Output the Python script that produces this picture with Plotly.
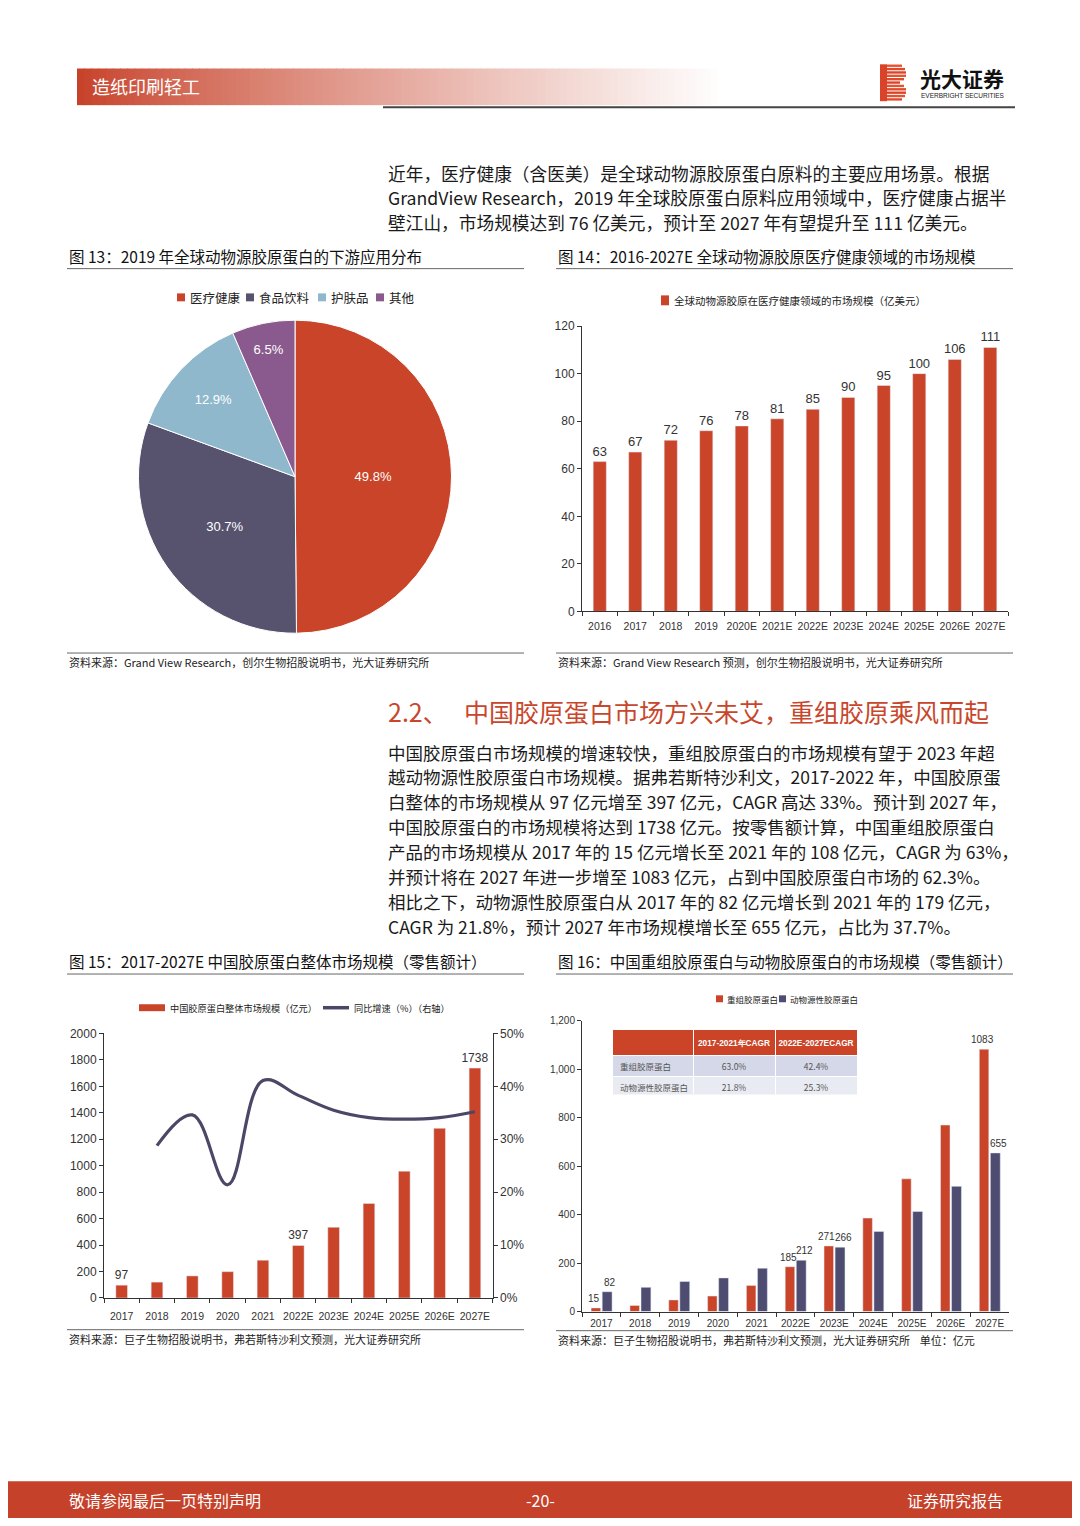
import plotly.graph_objects as go

# The page body keeps an 8px margin, so the figure is 16px smaller and all
# reference pixel positions are shifted by that margin.
PAD = 8
W, H = 1080 - 2 * PAD, 1526 - 2 * PAD


def X(px):
    return (px - PAD) / W


def Y(py):
    return 1 - (py - PAD) / H


CJK = "Noto Sans CJK SC"
NARROW = "Liberation Sans Narrow, Arial Narrow, Liberation Sans, sans-serif"
RED = "#C94428"
NAVY = "#4F4C72"

# ---------------- data ----------------
pie_labels = ["医疗健康", "食品饮料", "护肤品", "其他"]
pie_values = [49.8, 30.7, 12.9, 6.5]
pie_colors = [RED, "#57536F", "#8FB8CC", "#8A5A8E"]

years14 = ["2016", "2017", "2018", "2019", "2020E", "2021E", "2022E",
           "2023E", "2024E", "2025E", "2026E", "2027E"]
medical14 = [63, 67, 72, 76, 78, 81, 85, 90, 95, 100, 106, 111]

years15 = ["2017", "2018", "2019", "2020", "2021", "2022E", "2023E",
           "2024E", "2025E", "2026E", "2027E"]
total15 = [97, 120, 167, 199, 286, 397, 535, 715, 959, 1283, 1738]
growth_years15 = ["2018", "2019", "2020", "2021", "2022E", "2023E",
                  "2024E", "2025E", "2026E", "2027E"]
growth15 = [0.288, 0.346, 0.214, 0.411, 0.383, 0.355, 0.341, 0.338, 0.341, 0.352]
labeled15 = ["2017", "2022E", "2027E"]

years16 = ["2017", "2018", "2019", "2020", "2021", "2022E", "2023E",
           "2024E", "2025E", "2026E", "2027E"]
recomb16 = [15, 25, 48, 64, 108, 185, 271, 386, 548, 770, 1083]
animal16 = [82, 100, 124, 139, 179, 212, 266, 331, 413, 517, 655]
labeled16 = ["2017", "2022E", "2023E", "2027E"]

table_header = ["", "2017-2021年CAGR", "2022E-2027ECAGR"]
table_rows = ["重组胶原蛋白", "动物源性胶原蛋白"]
cagr_2017_2021 = ["63.0%", "21.8%"]
cagr_2022_2027 = ["42.4%", "25.3%"]

# ---------------- figure ----------------
fig = go.Figure()
ann = []
shapes = []


def txt(x, y, s, size, color="#222222", family=CJK, anchor="left"):
    ann.append(dict(x=X(x), y=Y(y), xref="paper", yref="paper", text=s,
                    showarrow=False, xanchor=anchor, yanchor="middle",
                    font=dict(size=size, color=color, family=family)))


def rect(x0, y0, x1, y1, color):
    shapes.append(dict(type="rect", xref="paper", yref="paper",
                       x0=X(x0), x1=X(x1), y0=Y(y1), y1=Y(y0),
                       fillcolor=color, line=dict(width=0), layer="above"))


def hline(x0, x1, y, color="#555555", width=1):
    shapes.append(dict(type="line", xref="paper", yref="paper",
                       x0=X(x0), x1=X(x1), y0=Y(y), y1=Y(y),
                       line=dict(color=color, width=width), layer="above"))


# ---- header gradient bar ----
n = 90
gx0, gx1 = 77, 725
for i in range(n):
    t = i / (n - 1)
    f = t ** 0.85
    r = int(199 + (255 - 199) * f)
    g = int(66 + (255 - 66) * f)
    b = int(42 + (255 - 42) * f)
    xa = gx0 + (gx1 - gx0) * i / n
    xb = gx0 + (gx1 - gx0) * (i + 1) / n + 0.8
    rect(xa, 62, xb, 99, f"rgb({r},{g},{b})")
txt(90, 80, "造纸印刷轻工", 18, "#FFFFFF")
hline(383, 1015, 101, "#444444", 2)

# logo
stripe_w = [22, 25, 26, 26, 24, 20, 24, 26, 26, 25, 22]
for i, w_ in enumerate(stripe_w):
    y0 = 58 + i * 3.4
    c = ["#E8522E", "#E04A2C", "#D9432A"][i % 3]
    rect(880, y0, 880 + w_, y0 + 2.4, c)
rect(880, 58, 887, 95, "#D9432A")
txt(918, 72, "<b>光大证券</b>", 21, "#111111")
txt(919, 89, "EVERBRIGHT SECURITIES", 6.5, "#222222", "Liberation Sans")

# ---- paragraph 1 ----
para1 = ["近年，医疗健康（含医美）是全球动物源胶原蛋白原料的主要应用场景。根据",
         "GrandView Research，2019 年全球胶原蛋白原料应用领域中，医疗健康占据半",
         "壁江山，市场规模达到 76 亿美元，预计至 2027 年有望提升至 111 亿美元。"]
for i, line in enumerate(para1):
    txt(386, 167 + i * 25, line, 17.7, "#1A1A1A")

# ---- figure titles row 1 ----
txt(67, 251, "图 13：2019 年全球动物源胶原蛋白的下游应用分布", 15.5, "#111111")
txt(556, 251, "图 14：2016-2027E 全球动物源胶原医疗健康领域的市场规模", 15.5, "#111111")
hline(67, 524, 264, "#666666", 1)
hline(556, 1013, 264, "#666666", 1)
hline(67, 524, 652, "#666666", 1)
hline(556, 1013, 652, "#666666", 1)
txt(67, 661, "资料来源：Grand View Research，创尔生物招股说明书，光大证券研究所", 11, "#222222")
txt(556, 661, "资料来源：Grand View Research 预测，创尔生物招股说明书，光大证券研究所", 11, "#222222")

# ---- pie ----
fig.add_trace(go.Pie(
    labels=pie_labels, values=pie_values, sort=False, direction="clockwise",
    rotation=0, marker=dict(colors=pie_colors, line=dict(color="#FFFFFF", width=1)),
    texttemplate="%{value:.1f}%", textposition="inside",
    insidetextorientation="horizontal",
    textfont=dict(size=13, color="#FFFFFF", family="Liberation Sans"),
    domain=dict(x=[X(137), X(453)], y=[Y(632), Y(316)]),
    showlegend=False, hoverinfo="label+percent"))

leg_x = [177, 246, 318, 376]
for lx, lab, col in zip(leg_x, pie_labels, pie_colors):
    rect(lx, 289, lx + 8, 297, col)
    txt(lx + 11, 293, lab, 12.5, "#222222")

# ---- chart 14 ----
fig.add_trace(go.Bar(
    x=years14, y=medical14, marker_color=RED, width=0.37,
    text=[str(v) for v in medical14], textposition="outside",
    constraintext="none", cliponaxis=False,
    textfont=dict(size=13, color="#333333", family=NARROW),
    xaxis="x", yaxis="y", showlegend=False))
rect(661, 291, 669, 301, RED)
txt(672, 296, "全球动物源胶原在医疗健康领域的市场规模（亿美元）", 10.5, "#222222")

# ---- section heading ----
txt(386, 711, "2.2、", 25, "#C8472C")
txt(462, 711, "中国胶原蛋白市场方兴未艾，重组胶原乘风而起", 25, "#C8472C")

para2 = ["中国胶原蛋白市场规模的增速较快，重组胶原蛋白的市场规模有望于 2023 年超",
         "越动物源性胶原蛋白市场规模。据弗若斯特沙利文，2017-2022 年，中国胶原蛋",
         "白整体的市场规模从 97 亿元增至 397 亿元，CAGR 高达 33%。预计到 2027 年，",
         "中国胶原蛋白的市场规模将达到 1738 亿元。按零售额计算，中国重组胶原蛋白",
         "产品的市场规模从 2017 年的 15 亿元增长至 2021 年的 108 亿元，CAGR 为 63%，",
         "并预计将在 2027 年进一步增至 1083 亿元，占到中国胶原蛋白市场的 62.3%。",
         "相比之下，动物源性胶原蛋白从 2017 年的 82 亿元增长到 2021 年的 179 亿元，",
         "CAGR 为 21.8%，预计 2027 年市场规模增长至 655 亿元，占比为 37.7%。"]
for i, line in enumerate(para2):
    txt(386, 752 + i * 25.1, line, 17.5, "#1A1A1A")

# ---- figure titles row 2 ----
txt(67, 963, "图 15：2017-2027E 中国胶原蛋白整体市场规模（零售额计）", 15.5, "#111111")
txt(556, 963, "图 16：中国重组胶原蛋白与动物胶原蛋白的市场规模（零售额计）", 15.5, "#111111")
hline(67, 524, 976, "#666666", 1)
hline(556, 1013, 976, "#666666", 1)
hline(67, 524, 1335, "#666666", 1)
hline(556, 1013, 1336, "#666666", 1)
txt(67, 1344, "资料来源：巨子生物招股说明书，弗若斯特沙利文预测，光大证券研究所", 11, "#222222")
txt(556, 1345, "资料来源：巨子生物招股说明书，弗若斯特沙利文预测，光大证券研究所    单位：亿元", 11, "#222222")

# ---- chart 15 ----
fig.add_trace(go.Bar(
    x=years15, y=total15, marker_color=RED, width=0.33,
    text=[str(v) if yr in labeled15 else "" for yr, v in zip(years15, total15)],
    textposition="outside", constraintext="none", cliponaxis=False,
    textfont=dict(size=12, color="#333333", family=NARROW),
    xaxis="x2", yaxis="y2", showlegend=False))
fig.add_trace(go.Scatter(
    x=growth_years15, y=growth15, mode="lines",
    line=dict(color="#4A4866", width=3.2, shape="spline", smoothing=1.1),
    xaxis="x2", yaxis="y3", showlegend=False))
rect(139, 1006.5, 165, 1013.5, RED)
txt(168, 1010, "中国胶原蛋白整体市场规模（亿元）", 9.2, "#222222")
hline(323, 349, 1010, "#4A4866", 3.5)
txt(352, 1010, "同比增速（%）（右轴）", 9.2, "#222222")

# ---- chart 16 ----
fig.add_trace(go.Bar(
    x=years16, y=recomb16, marker_color=RED, width=0.245, offset=-0.265,
    xaxis="x3", yaxis="y4", showlegend=False))
fig.add_trace(go.Bar(
    x=years16, y=animal16, marker_color=NAVY, width=0.255, offset=0.02,
    xaxis="x3", yaxis="y4", showlegend=False))
lab16_font = dict(size=10, color="#333333", family=NARROW)
for idx, (yr, vr, va) in enumerate(zip(years16, recomb16, animal16)):
    if yr in labeled16:
        ann.append(dict(x=idx, y=vr, xref="x3", yref="y4", text=str(vr),
                        showarrow=False, xanchor="center", yanchor="bottom",
                        xshift=-7.5, yshift=2, font=lab16_font))
        ann.append(dict(x=idx, y=va, xref="x3", yref="y4", text=str(va),
                        showarrow=False, xanchor="center", yanchor="bottom",
                        xshift=9, yshift=2, font=lab16_font))
rect(716, 997.5, 723, 1004.5, RED)
txt(725, 1001, "重组胶原蛋白", 8.5, "#222222")
rect(779, 997.5, 786, 1004.5, NAVY)
txt(788, 1001, "动物源性胶原蛋白", 8.5, "#222222")

fig.add_trace(go.Table(
    domain=dict(x=[X(612), X(857)], y=[Y(1098), Y(1032)]),
    columnwidth=[81, 82, 82],
    header=dict(values=["<b>" + h + "</b>" if h else "" for h in table_header],
                fill_color="#CB4427",
                line=dict(color="#FFFFFF", width=1), height=20,
                align=["left", "center", "center"],
                font=dict(size=8.3, color="#FFFFFF", family=NARROW)),
    cells=dict(values=[table_rows, cagr_2017_2021, cagr_2022_2027],
               fill_color=[["#D5D8E8", "#E9EBF3"]] * 3,
               line=dict(color="#FFFFFF", width=1), height=21,
               align=["left", "center", "center"],
               font=dict(size=8.5, color="#555555", family=CJK))))

# ---- footer ----
rect(0, 1488, 1080, 1526, "#C6412A")
txt(67, 1507, "敬请参阅最后一页特别声明", 16, "#FFFFFF")
txt(540, 1507, "-20-", 16, "#FFFFFF", anchor="center")
txt(1005, 1507, "证券研究报告", 16, "#FFFFFF", anchor="right")

# ---------------- axes ----------------
axis_common = dict(showline=True, linecolor="#333333", linewidth=1,
                   showgrid=False, zeroline=False, ticks="outside",
                   tickcolor="#333333", ticklen=4)
yfont = dict(size=12, color="#333333", family=NARROW)
xfont = dict(size=10.5, color="#333333", family=NARROW)

fig.update_layout(
    width=W, height=H, margin=dict(l=0, r=0, t=0, b=0),
    paper_bgcolor="#FFFFFF", plot_bgcolor="#FFFFFF",
    barmode="overlay", showlegend=False,
    xaxis=dict(domain=[X(582), X(1008)], anchor="y", type="category",
               tickson="boundaries", tickangle=0, tickfont=xfont,
               ticklabelstandoff=5, **axis_common),
    yaxis=dict(domain=[Y(610), Y(322)], anchor="x", range=[0, 120], dtick=20,
               tickfont=yfont, **axis_common),
    xaxis2=dict(domain=[X(104), X(492.6)], anchor="y2", type="category",
                tickson="boundaries", tickangle=0, tickfont=xfont,
                ticklabelstandoff=8, **axis_common),
    yaxis2=dict(domain=[Y(1303), Y(1036)], anchor="x2", range=[0, 2000], dtick=200,
                tickfont=yfont, **axis_common),
    yaxis3=dict(overlaying="y2", anchor="x2", side="right", range=[0, 0.5],
                dtick=0.1, tickformat=".0%", tickfont=yfont, **axis_common),
    xaxis3=dict(domain=[X(582), X(1009)], anchor="y4", type="category",
                range=[-0.5, len(years16) - 0.5],
                tickson="boundaries", tickangle=0, ticklabelstandoff=2,
                tickfont=dict(size=10, color="#333333", family=NARROW),
                **axis_common),
    yaxis4=dict(domain=[Y(1316.7), Y(1023.3)], anchor="x3", range=[0, 1200], dtick=200,
                tickformat=",", tickfont=dict(size=10, color="#333333", family=NARROW),
                **axis_common),
    annotations=ann, shapes=shapes,
)

fig.write_html("out.html", config={"displayModeBar": False})
